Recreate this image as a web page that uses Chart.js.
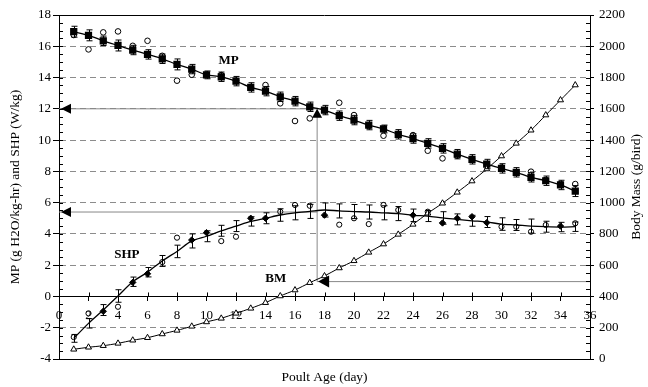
<!DOCTYPE html>
<html>
<head>
<meta charset="utf-8">
<script src="https://cdn.jsdelivr.net/npm/chart.js@4.4.1/dist/chart.umd.min.js"></script>
<style>
  html, body { margin: 0; padding: 0; background: #fff; }
  canvas { display: block; }
</style>
</head>
<body>
<canvas id="chart" width="648" height="387"></canvas>
<script>
// poult age (day)
const ages = [1, 2, 3, 4, 5, 6, 7, 8, 9, 10, 11, 12, 13, 14, 15, 16, 17, 18,
  19, 20, 21, 22, 23, 24, 25, 26, 27, 28, 29, 30, 31, 32, 33, 34, 35];

// MP mean (g H2O/kg-hr) and its error bars
const mpMean = [16.93, 16.7, 16.35, 16.05, 15.76, 15.48, 15.2, 14.84, 14.54, 14.17,
  14.05, 13.77, 13.37, 13.13, 12.77, 12.49, 12.13, 11.92, 11.56, 11.28, 10.96, 10.71,
  10.37, 10.1, 9.79, 9.47, 9.1, 8.77, 8.47, 8.19, 7.94, 7.62, 7.4, 7.13, 6.74];
const mpSE = [0.35, 0.35, 0.3, 0.35, 0.3, 0.3, 0.3, 0.35, 0.3, 0.25, 0.3, 0.3, 0.3,
  0.3, 0.3, 0.3, 0.3, 0.3, 0.3, 0.3, 0.3, 0.25, 0.3, 0.3, 0.3, 0.3, 0.3, 0.3, 0.3,
  0.3, 0.3, 0.3, 0.3, 0.3, 0.35];
// MP single birds (open circles)
const mpSingle = [16.72, 15.8, 16.89, 16.95, 16.03, 16.35, 15.39, 13.8, 14.18, 14.2,
  14.16, 13.8, 13.4, 13.52, 12.35, 11.22, 11.39, 11.9, 12.39, 11.6, 10.9, 10.28,
  10.4, 10.32, 9.32, 8.83, 9.0, 8.8, 8.45, 8.25, 7.94, 7.98, 7.45, 7.2, 7.19];

// SHP mean (W/kg) and its error bars
const shpMean = [-2.68, -1.72, -0.87, 0.03, 0.94, 1.55, 2.27, 2.88, 3.55, 3.85,
  4.2, 4.5, 4.8, 5.0, 5.21, 5.35, 5.44, 5.53, 5.47, 5.43, 5.4, 5.35, 5.3, 5.19,
  5.14, 5.02, 4.93, 4.84, 4.76, 4.63, 4.57, 4.5, 4.46, 4.44, 4.46];
const shpSE = [0.25, 0.3, 0.35, 0.4, 0.3, 0.3, 0.35, 0.4, 0.45, 0.35, 0.35, 0.35,
  0.3, 0.35, 0.4, 0.45, 0.45, 0.45, 0.45, 0.45, 0.45, 0.45, 0.45, 0.4, 0.35, 0.4,
  0.35, 0.35, 0.35, 0.4, 0.35, 0.45, 0.35, 0.3, 0.3];
// SHP single birds
const shpFilledDays = [3, 5, 6, 9, 10, 13, 14, 18, 24, 26, 27, 28, 29, 34];
const shpFilledVals = [-0.95, 0.9, 1.45, 3.61, 4.08, 5.0, 5.0, 5.2, 5.2, 4.7, 5.0, 5.1, 4.72, 4.5];
const shpOpenDays = [1, 2, 4, 7, 8, 11, 12, 15, 16, 17, 19, 20, 21, 22, 23, 25, 30, 31, 32, 33, 35];
const shpOpenVals = [-2.6, -1.08, -0.66, 2.2, 3.76, 3.54, 3.82, 5.42, 5.85, 5.8, 4.59,
  5.0, 4.63, 5.85, 5.53, 5.42, 4.46, 4.46, 4.14, 4.57, 4.68];

// body mass (g/bird)
const bodyMass = [62, 75, 85, 100, 120, 136, 160, 183, 209, 237, 260, 292, 324, 360,
  403, 441, 488, 531, 582, 628, 682, 735, 797, 861, 932, 996, 1066, 1138, 1215, 1298,
  1379, 1463, 1560, 1656, 1752];

// read-off guide lines
const readAge = 17.5;
const mpRead = 12;
const shpRead = 5.4;
const bmRead = 495;

// curve labels (left axis units)
const curveLabels = [
  { text: 'MP', x: 11.5, y: 15.1 },
  { text: 'SHP', x: 4.6, y: 2.7 },
  { text: 'BM', x: 14.7, y: 1.12 }
];

const SERIF = '"Liberation Serif", "Times New Roman", serif';
const GRID = '#8c8c8c';

const pts = (xs, ys) => xs.map((x, i) => ({ x: x, y: ys[i] }));

function triangle(ctx, a, b, c) {
  ctx.beginPath();
  ctx.moveTo(a[0], a[1]);
  ctx.lineTo(b[0], b[1]);
  ctx.lineTo(c[0], c[1]);
  ctx.closePath();
  ctx.fill();
}

const overlay = {
  id: 'overlay',
  beforeDatasetsDraw(chart) {
    const { ctx, scales: { x, y, y2 } } = chart;
    const xr = x.getPixelForValue(readAge);
    const yMp = y.getPixelForValue(mpRead);
    const yShp = y.getPixelForValue(shpRead);
    const yBm = y2.getPixelForValue(bmRead);
    ctx.save();
    ctx.strokeStyle = '#888';
    ctx.lineWidth = 1;
    ctx.beginPath();
    ctx.moveTo(x.getPixelForValue(0), yMp); ctx.lineTo(xr, yMp);
    ctx.moveTo(x.getPixelForValue(0), yShp); ctx.lineTo(xr, yShp);
    ctx.moveTo(xr, yMp); ctx.lineTo(xr, yBm);
    ctx.moveTo(xr, yBm); ctx.lineTo(x.getPixelForValue(36), yBm);
    ctx.stroke();
    ctx.restore();
  },
  afterDatasetsDraw(chart) {
    const { ctx, chartArea: a, scales: { x, y, y2 } } = chart;
    ctx.save();
    ctx.strokeStyle = '#000';
    ctx.fillStyle = '#000';
    ctx.lineWidth = 1;

    // error bars
    chart.data.datasets.forEach((ds, i) => {
      if (!ds.errors) return;
      const meta = chart.getDatasetMeta(i);
      ds.data.forEach((p, j) => {
        const px = Math.round(meta.data[j].x) + 0.5;
        const top = y.getPixelForValue(p.y + ds.errors[j]);
        const bot = y.getPixelForValue(p.y - ds.errors[j]);
        ctx.beginPath();
        ctx.moveTo(px, top); ctx.lineTo(px, bot);
        ctx.moveTo(px - 3, top); ctx.lineTo(px + 3, top);
        ctx.moveTo(px - 3, bot); ctx.lineTo(px + 3, bot);
        ctx.stroke();
      });
    });

    // top frame line
    ctx.beginPath();
    ctx.moveTo(a.left, Math.round(a.top) + 0.5);
    ctx.lineTo(a.right, Math.round(a.top) + 0.5);
    ctx.stroke();

    // inner ticks on both value axes
    ctx.beginPath();
    for (let v = -4; v <= 18; v += 0.5) {
      const py = Math.round(y.getPixelForValue(v)) + 0.5;
      ctx.moveTo(a.left, py); ctx.lineTo(a.left + 4, py);
    }
    for (let v = 0; v <= 2200; v += 50) {
      const py = Math.round(y2.getPixelForValue(v)) + 0.5;
      ctx.moveTo(a.right - 4, py); ctx.lineTo(a.right, py);
    }
    // upper half of the day ticks
    const y0 = y.getPixelForValue(0);
    x.ticks.forEach(t => {
      const px = Math.round(x.getPixelForValue(t.value)) + 0.5;
      ctx.moveTo(px, y0 - 4); ctx.lineTo(px, y0);
    });
    ctx.stroke();

    // arrow heads
    const x0 = x.getPixelForValue(0);
    const xr = x.getPixelForValue(readAge);
    const yMp = y.getPixelForValue(mpRead);
    const yShp = y.getPixelForValue(shpRead);
    const yBm = y2.getPixelForValue(bmRead);
    triangle(ctx, [x0 + 2, yMp], [x0 + 12, yMp - 5], [x0 + 12, yMp + 5]);
    triangle(ctx, [x0 + 2, yShp], [x0 + 12, yShp - 5], [x0 + 12, yShp + 5]);
    triangle(ctx, [xr, yMp], [xr - 5, yMp + 9], [xr + 5, yMp + 9]);
    triangle(ctx, [xr + 1, yBm], [xr + 12, yBm - 6], [xr + 12, yBm + 6]);

    // curve labels
    ctx.font = 'bold 13px ' + SERIF;
    ctx.textAlign = 'center';
    ctx.textBaseline = 'middle';
    curveLabels.forEach(l => {
      ctx.fillText(l.text, x.getPixelForValue(l.x), y.getPixelForValue(l.y));
    });

    // right axis title, reading upward
    ctx.font = '13.5px ' + SERIF;
    ctx.translate(636, (a.top + a.bottom) / 2);
    ctx.rotate(-Math.PI / 2);
    ctx.fillText('Body Mass (g/bird)', 0, 0);
    ctx.restore();
  }
};

new Chart(document.getElementById('chart'), {
  type: 'scatter',
  data: {
    datasets: [
      {
        label: 'BM',
        data: pts(ages, bodyMass),
        yAxisID: 'y2',
        showLine: true,
        borderColor: '#000',
        borderWidth: 1,
        tension: 0.3,
        pointStyle: 'triangle',
        pointRadius: 3.5,
        pointBackgroundColor: '#fff',
        pointBorderColor: '#000',
        pointBorderWidth: 1
      },
      {
        label: 'SHP',
        data: pts(ages, shpMean),
        errors: shpSE,
        showLine: true,
        borderColor: '#000',
        borderWidth: 1.3,
        tension: 0.3,
        pointRadius: 0
      },
      {
        label: 'SHP filled',
        data: pts(shpFilledDays, shpFilledVals),
        pointStyle: 'rectRot',
        pointRadius: 3.2,
        pointBackgroundColor: '#000',
        pointBorderColor: '#000'
      },
      {
        label: 'SHP open',
        data: pts(shpOpenDays, shpOpenVals),
        pointStyle: 'circle',
        pointRadius: 2.6,
        pointBackgroundColor: 'rgba(0,0,0,0)',
        pointBorderColor: '#000',
        pointBorderWidth: 1
      },
      {
        label: 'MP',
        data: pts(ages, mpMean),
        errors: mpSE,
        showLine: true,
        borderColor: '#000',
        borderWidth: 1.3,
        tension: 0.3,
        pointStyle: 'rect',
        pointRadius: 4.2,
        pointBackgroundColor: '#000',
        pointBorderColor: '#000'
      },
      {
        label: 'MP single',
        data: pts(ages, mpSingle),
        pointStyle: 'circle',
        pointRadius: 2.8,
        pointBackgroundColor: 'rgba(0,0,0,0)',
        pointBorderColor: '#000',
        pointBorderWidth: 1
      }
    ]
  },
  options: {
    responsive: false,
    animation: false,
    events: [],
    layout: { padding: { top: 15, left: 0, right: 0, bottom: 0 } },
    plugins: {
      legend: { display: false },
      tooltip: { enabled: false }
    },
    scales: {
      x: {
        type: 'linear',
        position: { y: 0 },
        min: 0,
        max: 36,
        ticks: { stepSize: 2, color: '#000', padding: 7, maxRotation: 0, font: { family: SERIF, size: 13 } },
        grid: { drawOnChartArea: false, drawTicks: true, tickLength: 4, tickColor: '#000' },
        border: { display: true, color: '#000', width: 1 }
      },
      x2: {
        type: 'linear',
        position: 'bottom',
        min: 0,
        max: 36,
        ticks: { display: false },
        grid: { display: false },
        border: { display: true, color: '#000', width: 1 },
        title: {
          display: true,
          text: 'Poult Age (day)',
          color: '#000',
          padding: { top: 0, bottom: 1 },
          font: { family: SERIF, size: 13.5 }
        },
        afterFit: s => { s.height = 28; }
      },
      y: {
        position: 'left',
        min: -4,
        max: 18,
        ticks: { stepSize: 2, color: '#000', padding: 2, font: { family: SERIF, size: 13 } },
        grid: {
          color: c => [18, 0, -4].includes(c.tick.value) ? 'rgba(0,0,0,0)' : GRID,
          tickColor: '#000',
          tickLength: 6
        },
        border: { display: true, color: '#000', width: 1, dash: [6, 4] },
        title: {
          display: true,
          text: 'MP (g H2O/kg-hr) and SHP (W/kg)',
          color: '#000',
          padding: { top: 7, bottom: 0 },
          font: { family: SERIF, size: 13.5 }
        },
        afterFit: s => { s.width = 59; }
      },
      y2: {
        position: 'right',
        min: 0,
        max: 2200,
        ticks: {
          stepSize: 200,
          color: '#000',
          padding: 5,
          font: { family: SERIF, size: 13 },
          callback: v => String(v)
        },
        grid: { drawOnChartArea: false, tickColor: '#000', tickLength: 4 },
        border: { display: true, color: '#000', width: 1 },
        afterFit: s => { s.width = 58; }
      }
    }
  },
  plugins: [overlay]
});
</script>
</body>
</html>
